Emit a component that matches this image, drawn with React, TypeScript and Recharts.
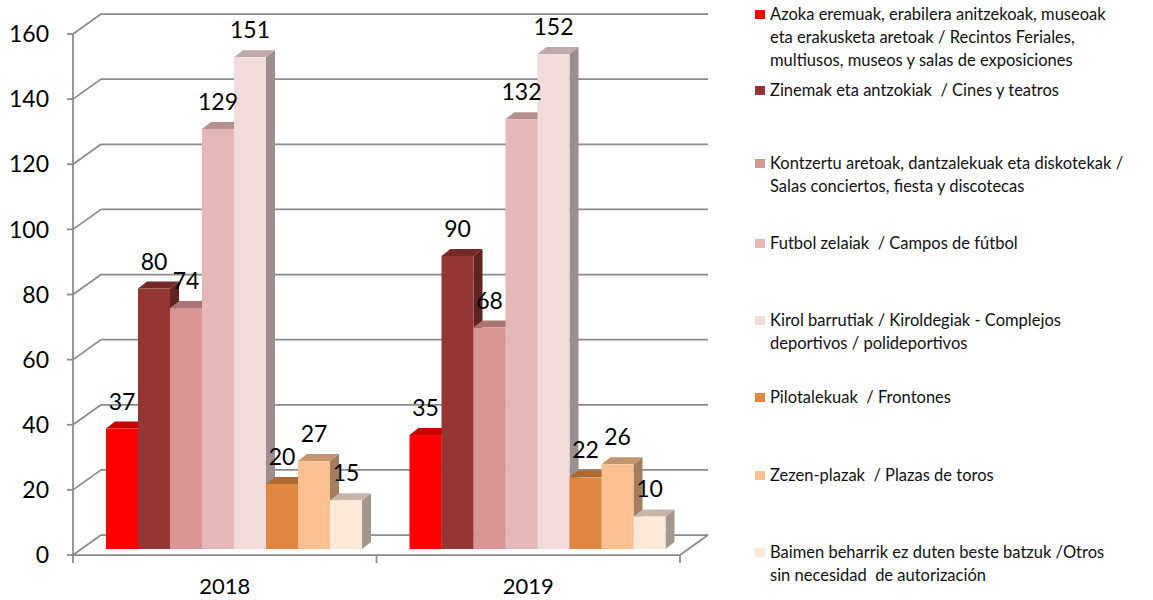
import { BarChart, Bar, XAxis, YAxis, CartesianGrid, LabelList } from 'recharts';

// categorías (años)
const years = ['2018', '2019'];

// nombres de las series tal y como salen en la leyenda (\n = salto de línea)
const seriesNames = [
  'Azoka eremuak, erabilera anitzekoak, museoak\neta erakusketa aretoak / Recintos Feriales,\nmultiusos, museos y salas de exposiciones',
  'Zinemak eta antzokiak  / Cines y teatros',
  'Kontzertu aretoak, dantzalekuak eta diskotekak /\nSalas conciertos, fiesta y discotecas',
  'Futbol zelaiak  / Campos de fútbol',
  'Kirol barrutiak / Kiroldegiak - Complejos\ndeportivos / polideportivos',
  'Pilotalekuak  / Frontones',
  'Zezen-plazak  / Plazas de toros',
  'Baimen beharrik ez duten beste batzuk /Otros\nsin necesidad  de autorización',
];

const seriesColors = ['#FF0000', '#943634', '#D99594', '#E5B8B7', '#F2DBDB', '#DF8641', '#FAC090', '#FDE9D9'];

// valores por serie: [2018, 2019]
const azoka = [37, 35];
const zinemak = [80, 90];
const kontzertu = [74, 68];
const futbol = [129, 132];
const kirol = [151, 152];
const pilotalekuak = [20, 22];
const zezenPlazak = [27, 26];
const besteak = [15, 10];

const yTicks = [0, 20, 40, 60, 80, 100, 120, 140, 160];

const seriesValues = [azoka, zinemak, kontzertu, futbol, kirol, pilotalekuak, zezenPlazak, besteak];

const data = years.map((year, i) => {
  const row: Record<string, any> = { year };
  seriesValues.forEach((vals, s) => {
    row['s' + s] = vals[i];
  });
  return row;
});

// geometría del "3D"
const WALL_DX = 28;
const WALL_DY = -20;
const BAR_OX = 9; // desplazamiento de la barra hacia el fondo
const BAR_OY = -6;
const BAR_DX = 9; // grosor de la barra
const BAR_DY = -7;
const PLOT_BOTTOM = 555;
const GRID = '#8a8a8a';
const FONT = 'Lato, "Open Sans", sans-serif';

// posición vertical (centro de la primera línea) de cada entrada de la leyenda
const legendRows = [14, 90, 163, 243, 320, 397, 475, 552];

function shade(hex: string, f: number) {
  const n = parseInt(hex.slice(1), 16);
  const r = Math.round(((n >> 16) & 255) * f);
  const g = Math.round(((n >> 8) & 255) * f);
  const b = Math.round((n & 255) * f);
  return `rgb(${r},${g},${b})`;
}

function Bar3D(props: any) {
  const { x, y, width, height, color } = props;
  if (width == null || height == null) return null;
  const fx = x + BAR_OX;
  const fy = y + BAR_OY;
  const top = `${fx},${fy} ${fx + BAR_DX},${fy + BAR_DY} ${fx + width + BAR_DX},${fy + BAR_DY} ${fx + width},${fy}`;
  const side = `${fx + width},${fy} ${fx + width + BAR_DX},${fy + BAR_DY} ${fx + width + BAR_DX},${fy + height + BAR_DY} ${fx + width},${fy + height}`;
  return (
    <g>
      <polygon points={side} fill={shade(color, 0.65)} />
      <polygon points={top} fill={shade(color, 0.78)} />
      <rect x={fx} y={fy} width={width} height={height} fill={color} />
    </g>
  );
}

function ValueLabel(props: any) {
  const { x, y, width, value } = props;
  return (
    <text
      x={x + BAR_OX + width / 2}
      y={y + BAR_OY - 19}
      textAnchor="middle"
      fontSize={23}
      fontFamily={FONT}
      fill="#000"
    >
      {value}
    </text>
  );
}

// cada línea horizontal de la cuadrícula: pared del fondo + diagonal lateral
function WallLine(props: any) {
  const { x1, x2, y1 } = props;
  const isFloor = Math.abs(y1 - PLOT_BOTTOM) < 1;
  const mid = (x1 + x2) / 2;
  return (
    <g key={'g' + y1}>
      <line x1={x1 + WALL_DX} y1={y1 + WALL_DY} x2={x2 + WALL_DX} y2={y1 + WALL_DY} stroke={GRID} strokeWidth={1.75} />
      <line x1={x1} y1={y1} x2={x1 + WALL_DX} y2={y1 + WALL_DY} stroke={GRID} strokeWidth={1.75} />
      {isFloor && (
        <g>
          <line x1={x2} y1={y1} x2={x2 + WALL_DX} y2={y1 + WALL_DY} stroke={GRID} strokeWidth={1.75} />
          {[x1, mid, x2].map((tx) => (
            <line key={tx} x1={tx} y1={y1} x2={tx} y2={y1 + 8} stroke={GRID} strokeWidth={1.75} />
          ))}
        </g>
      )}
    </g>
  );
}

export default function App() {
  return (
    <div style={{ position: 'absolute', left: 0, top: 0, width: 1153, height: 600, background: '#fff' }}>
      <BarChart
        width={1153}
        height={600}
        data={data}
        margin={{ top: 34, right: 473, bottom: 5, left: 10 }}
        barGap={0}
      >
        <CartesianGrid vertical={false} horizontal={(p: any) => <WallLine {...p} />} />
        <XAxis
          dataKey="year"
          height={40}
          tickLine={false}
          tickSize={0}
          tickMargin={23}
          axisLine={{ stroke: GRID, strokeWidth: 1.75 }}
          tick={{ fontSize: 22, fill: '#000', fontFamily: FONT }}
        />
        <YAxis
          width={63}
          domain={[0, 160]}
          ticks={yTicks}
          tickSize={6}
          tickMargin={18}
          axisLine={{ stroke: GRID, strokeWidth: 1.75 }}
          tickLine={{ stroke: GRID, strokeWidth: 1.75 }}
          tick={{ fontSize: 23, fill: '#000', fontFamily: FONT }}
        />
        {seriesNames.map((name, s) => (
          <Bar
            key={name}
            dataKey={'s' + s}
            name={name}
            fill={seriesColors[s]}
            barSize={32}
            isAnimationActive={false}
            shape={(p: any) => <Bar3D {...p} color={seriesColors[s]} />}
          >
            <LabelList dataKey={'s' + s} content={(p: any) => <ValueLabel {...p} />} />
          </Bar>
        ))}
      </BarChart>

      <div style={{ position: 'absolute', left: 755, top: 0, width: 398, fontFamily: FONT, fontSize: 16.5, color: '#111' }}>
        {seriesNames.map((name, s) => (
          <div key={name} style={{ position: 'absolute', left: 0, top: legendRows[s] - 11.5, display: 'flex' }}>
            <div style={{ width: 10, height: 9, marginTop: 7, background: seriesColors[s], flex: 'none' }} />
            <div style={{ marginLeft: 5, whiteSpace: 'pre', lineHeight: '23px' }}>{name}</div>
          </div>
        ))}
      </div>
    </div>
  );
}
